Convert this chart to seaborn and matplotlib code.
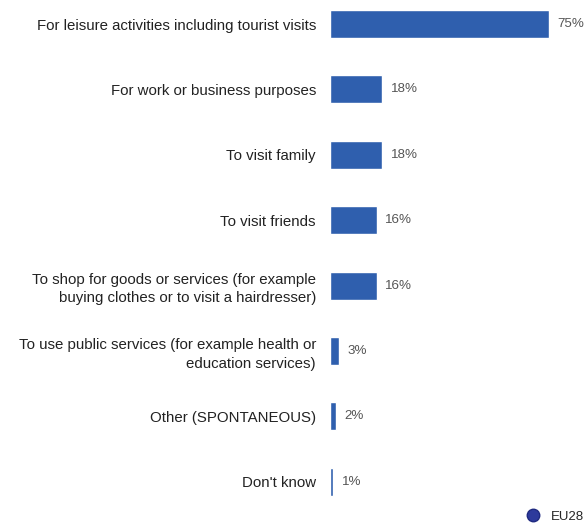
import matplotlib
matplotlib.use("Agg")
import matplotlib.pyplot as plt
import seaborn as sns
import pandas as pd
from matplotlib.lines import Line2D

categories = [
    "For leisure activities including tourist visits",
    "For work or business purposes",
    "To visit family",
    "To visit friends",
    "To shop for goods or services (for example\nbuying clothes or to visit a hairdresser)",
    "To use public services (for example health or\neducation services)",
    "Other (SPONTANEOUS)",
    "Don't know",
]
values = [75, 18, 18, 16, 16, 3, 2, 1]
value_labels = ["75%", "18%", "18%", "16%", "16%", "3%", "2%", "1%"]
series_name = "EU28"

df = pd.DataFrame({"reason": categories, "share": values})

sns.set_theme(style="white")
plt.rcParams["font.family"] = ["Liberation Sans", "DejaVu Sans"]

fig = plt.figure(figsize=(5.88, 5.23), dpi=100)
ax = fig.add_axes([0.561, 0.0, 0.439, 1.0])

bar_color = "#2f5fae"
sns.barplot(data=df, x="share", y="reason", orient="h", color=bar_color,
            width=0.43, ax=ax, saturation=1)

ax.set_xlim(0, 88.4)
ax.set_ylim(7.63, -0.367)
ax.set_xlabel("")
ax.set_ylabel("")
ax.set_xticks([])
for s in ax.spines.values():
    s.set_visible(False)

ax.tick_params(axis="y", length=0, pad=10, labelsize=10.8, labelcolor="#222222")
for lbl in ax.get_yticklabels():
    lbl.set_horizontalalignment("right")
    lbl.set_multialignment("right")
    lbl.set_linespacing(1.4)

for i, (v, t) in enumerate(zip(values, value_labels)):
    ax.text(v + 3.0, i, t, va="center", ha="left", fontsize=9.6, color="#555555")

handle = Line2D([], [], marker="o", linestyle="", markersize=9,
                markerfacecolor="#2d3a9c", markeredgecolor="#1f2a80")
fig.legend([handle], [series_name], loc="lower right",
           bbox_to_anchor=(0.998, -0.005), frameon=False, fontsize=9.5,
           handletextpad=0.4, borderaxespad=0, borderpad=0.2)

fig.savefig("out.png", dpi=100)
